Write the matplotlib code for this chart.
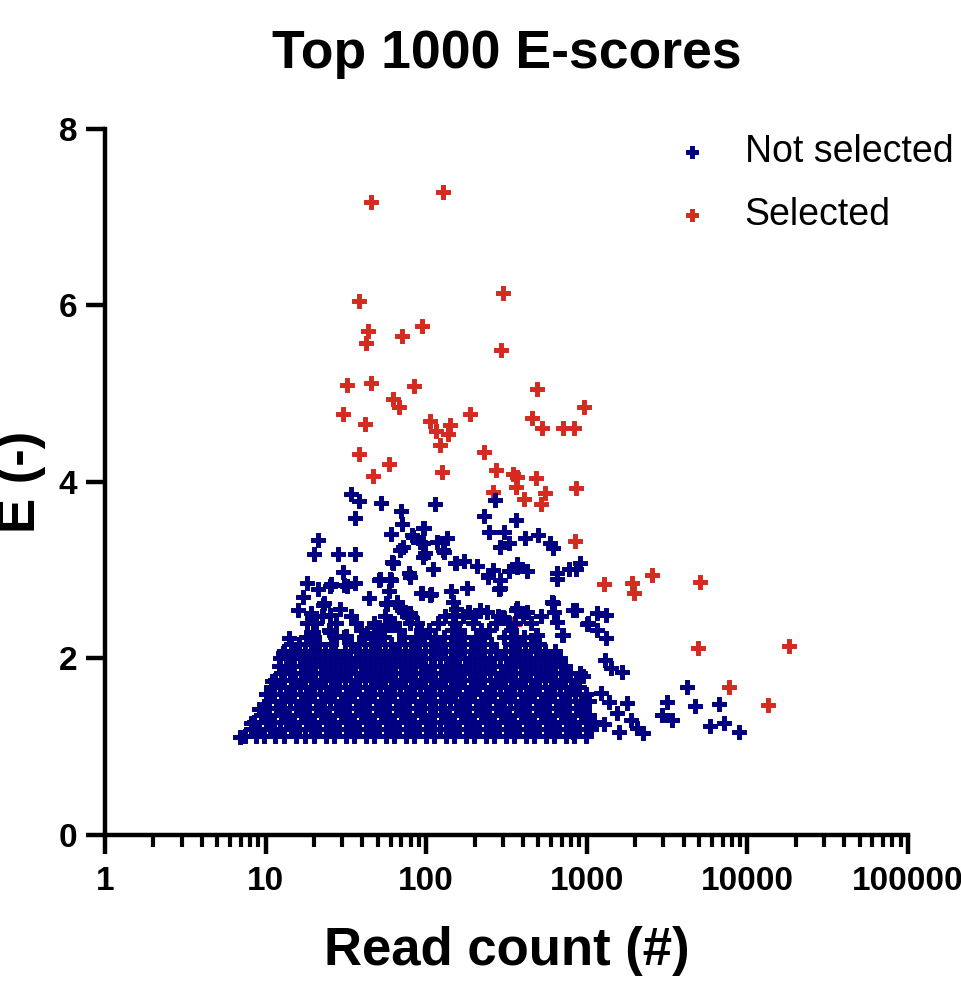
"""
Scatter of the top 1000 E-scores against read count, split into
selected / not selected hits.
"""

import matplotlib
matplotlib.use('Agg')
import matplotlib.pyplot as plt
from matplotlib.ticker import LogLocator, FuncFormatter, NullFormatter, FixedLocator

plt.rcParams['font.family'] = ['Liberation Sans', 'DejaVu Sans']

NAVY = '#000080'
RED = '#D52A1F'

# ── Selected hits ──
selected_reads = [45.3, 127, 38.2, 301, 43.4, 42.2, 70.7, 94.2, 292, 32.1, 45.3, 84,
                  490, 62, 67.7, 958, 30.3, 41.5, 105, 141, 187, 456, 528, 831, 710,
                  115, 137, 38.2, 58.7, 46.6, 122, 126, 229, 272, 348, 365, 362, 482,
                  405, 261, 550, 519, 857, 845, 1280, 1900, 1960, 352, 2547, 5070,
                  4920, 7680, 13400, 18100]
selected_e = [7.17, 7.29, 6.05, 6.14, 5.71, 5.58, 5.65, 5.77, 5.50, 5.10, 5.12, 5.09,
              5.05, 4.94, 4.85, 4.85, 4.77, 4.66, 4.69, 4.65, 4.77, 4.73, 4.61, 4.61, 4.61,
              4.58, 4.54, 4.32, 4.20, 4.07, 4.42, 4.11, 4.34, 4.14, 4.09, 4.06, 3.94, 4.05,
              3.81, 3.89, 3.87, 3.75, 3.93, 3.33, 2.84, 2.86, 2.74, 2.39, 2.95, 2.87,
              2.12, 1.68, 1.47, 2.14]

# ── Not selected: scattered hits above the main cloud and on its flanks ──
other_reads = [34.0, 38.2, 36.0, 52.4, 69.6, 70.7, 60.4, 81.7, 96.8, 91.5, 113, 134,
               129, 98.5, 68.7, 61.1, 21.2, 20.0, 28.2, 36.0, 30.4, 18.1, 21.2, 25.5,
               30.8, 36.0, 17.1, 23.1, 29.0, 44.1, 56.1, 50.8, 62.2, 60.4, 58.7, 78.3,
               92.9, 107, 110, 154, 172, 207, 243, 260, 288, 284, 327, 368, 424, 143,
               179, 147, 154, 228, 268, 245, 303, 363, 411, 497, 288, 327, 590, 617,
               654, 654, 775, 907, 608, 627, 850, 1001, 1150, 1320, 1160, 1320, 700,
               480, 363, 303, 216, 184, 170, 70.7, 80.5, 50.8, 59.5, 42.9, 15.9, 19.2,
               25.2, 18.1, 19.7, 25.2, 31.7, 49.4, 72.9, 65.6, 57.1, 25.2, 32.1, 51.5,
               95.1, 83.0, 95.1, 116, 127, 95.1, 71.8, 79.3, 93.6, 106, 862, 368, 243,
               288, 151, 618, 822, 654, 710, 488, 368, 424, 299, 358, 147, 181, 239,
               79.3, 79.3, 68.7, 59.5, 22.6, 59.5,
               1023, 1290, 1420, 1650, 950, 855, 1220, 1370, 1780, 930, 990, 1060,
               1280, 1540, 1590, 1880, 2060, 2250, 818, 3150, 2940, 3380, 4190, 4700,
               6640, 5850, 7160, 8900,
               6.9, 8.1, 9.1, 10.1, 10.9, 12.1, 12.8, 14.0]
other_e = [3.86, 3.78, 3.59, 3.76, 3.67, 3.52, 3.41, 3.40, 3.48, 3.32, 3.75, 3.37,
           3.21, 3.20, 3.23, 3.09, 3.34, 3.18, 3.18, 3.18, 2.98, 2.86, 2.79, 2.84,
           2.83, 2.86, 2.70, 2.63, 2.56, 2.69, 2.63, 2.89, 3.08, 2.89, 2.76, 2.97,
           2.74, 2.73, 3.01, 3.08, 3.10, 3.05, 2.95, 3.00, 2.89, 2.79, 2.99, 3.07, 2.99, 2.76,
           2.80, 2.64, 2.56, 3.61, 3.80, 3.43, 3.43, 3.57, 3.37, 3.40, 3.26, 3.31, 3.31, 3.25,
           2.97, 2.90, 3.01, 3.08, 2.64, 2.53, 2.55, 2.39, 2.52, 2.49, 2.32, 2.23, 2.27,
           2.27, 2.55, 2.46, 2.55, 2.53, 2.48, 2.55, 2.47, 2.36, 2.40, 2.29, 2.55, 2.52,
           2.49, 2.40, 2.30, 2.30, 2.25, 2.36, 2.53, 2.64, 2.62, 2.82, 2.82, 2.90,
           3.48, 3.38, 3.31, 3.32, 3.23, 3.15, 3.26, 2.92, 2.74, 2.72, 3.01, 3.04, 2.92,
           2.80, 3.08, 2.63, 2.55, 2.41, 2.27, 2.27, 2.57, 2.53, 2.47, 2.40, 2.49, 2.53, 2.53,
           2.52, 2.40, 2.58, 2.90, 2.61, 2.38,
           2.40, 1.98, 1.89, 1.85, 1.80, 1.68, 1.61, 1.51, 1.50, 1.50, 1.34, 1.27,
           1.26, 1.38, 1.17, 1.30, 1.21, 1.16, 1.17, 1.51, 1.36, 1.30, 1.68, 1.46,
           1.48, 1.24, 1.27, 1.17,
           1.11, 1.27, 1.43, 1.60, 1.74, 1.91, 2.06, 2.23]

# ── Not selected: the dense core, one list of read counts per E level ──
core_levels = [1.12, 1.20, 1.28, 1.36, 1.44, 1.52, 1.60, 1.68, 1.76, 1.84, 1.92,
               2.00, 2.08, 2.16, 2.24, 2.32, 2.40, 2.48]
core_reads = [
    [7.4, 8.7, 9.8, 11.5, 13.1, 15.4, 17.5, 20.1, 23.6, 26.8, 31.5, 35.7, 41.9, 47.6,
     55.8, 63.2, 74.4, 84.5, 99.0, 112, 133, 149, 176, 198, 235, 265, 314, 352, 418,
     470, 556, 627, 741, 836, 985],
    [8.1, 9.1, 10.7, 12.2, 14.4, 16.2, 19.1, 21.6, 25.5, 28.7, 33.9, 38.3, 45.2, 51.0,
     60.1, 68.0, 80.1, 90.6, 107, 121, 143, 160, 189, 213, 253, 285, 337, 380, 448,
     506, 597, 674, 795, 898, 1060],
    [8.5, 10.0, 11.3, 13.4, 15.0, 17.8, 20.0, 23.7, 26.6, 31.6, 35.5, 42.1, 47.4, 56.0,
     63.1, 74.6, 84.0, 99.5, 111, 133, 149, 176, 198, 235, 264, 314, 352, 417, 470,
     556, 626, 741, 834, 988, 1110],
    [9.3, 10.5, 12.4, 14.0, 16.6, 18.7, 22.1, 24.9, 29.4, 33.1, 39.2, 44.2, 52.1, 58.8,
     69.5, 78.4, 92.6, 105, 124, 139, 164, 185, 219, 247, 292, 329, 389, 438, 517,
     584, 689, 777, 918, 1035],
    [9.8, 11.6, 13.0, 15.4, 17.4, 20.6, 23.1, 27.3, 30.8, 36.5, 41.1, 48.6, 54.7, 64.6,
     72.9, 86.1, 97.2, 114, 129, 153, 172, 203, 229, 271, 306, 361, 407, 481, 543,
     641, 724, 854, 964],
    [10.5, 12.5, 14.1, 16.6, 18.7, 22.0, 25.0, 29.3, 33.2, 39.1, 44.3, 52.0, 59.0, 69.4,
     78.6, 92.4, 105, 123, 140, 164, 185, 218, 247, 291, 330, 388, 439, 516, 585, 688,
     779, 916, 1038],
    [10.1, 11.3, 13.4, 15.0, 17.8, 20.1, 23.7, 26.7, 31.6, 35.6, 42.0, 47.5, 55.9, 63.3,
     74.5, 84.3, 99.4, 112, 132, 150, 176, 199, 234, 265, 313, 354, 416, 471, 555, 628,
     740, 838, 986],
    [10.8, 12.2, 14.3, 16.3, 19.1, 21.7, 25.4, 28.8, 33.8, 38.4, 45.1, 51.2, 60.0, 68.3,
     80.0, 90.9, 107, 121, 142, 161, 189, 214, 252, 286, 336, 381, 447, 507, 595, 677,
     792, 900],
    [11.5, 13.1, 15.3, 17.5, 20.4, 23.3, 27.2, 31.0, 36.3, 41.4, 48.3, 55.0, 64.3, 73.3,
     85.6, 97.8, 114, 130, 152, 173, 202, 230, 270, 308, 359, 410, 479, 546, 638, 728,
     850],
    [12.4, 14.1, 16.5, 18.8, 22.0, 25.1, 29.2, 33.3, 39.0, 44.5, 51.9, 59.2, 69.2, 79.0,
     92.1, 105, 123, 140, 163, 186, 217, 248, 290, 331, 387, 440, 514, 587, 686, 782,
     912],
    [13.3, 15.1, 17.7, 20.2, 23.5, 26.9, 31.4, 35.8, 41.8, 47.8, 55.6, 63.6, 74.1, 84.7,
     98.8, 112, 132, 150, 175, 200, 233, 266, 312, 355, 414, 473, 552, 630, 736],
    [12.2, 14.3, 16.3, 19.0, 21.7, 25.3, 28.9, 33.7, 38.5, 44.9, 51.3, 59.8, 68.4, 79.7,
     91.1, 107, 121, 142, 161, 188, 215, 251, 287, 335, 382, 445, 509, 593, 678],
    [13.1, 15.3, 17.5, 20.4, 23.3, 27.2, 31.0, 36.3, 41.4, 48.3, 55.0, 64.3, 73.3, 85.6,
     97.8, 114, 130, 152, 173, 202, 230, 270, 308, 359, 410, 479, 546, 638],
    [14.3, 16.2, 19.1, 21.6, 25.4, 33.9, 38.3, 45.2, 51.0, 60.1, 68.0, 80.1, 90.6, 107,
     121, 143, 160, 189, 213, 253, 337, 380, 448, 506],
    [17.8, 20.1, 27.3, 30.8, 41.1, 48.6, 54.7, 72.9, 86.1, 97.2, 114, 129, 153, 172,
     203, 229, 306, 361, 407],
    [24.8, 39.4, 52.3, 67.6, 93.0, 104, 144, 159, 220, 246, 338],
    [20.6, 27.5, 36.4, 47.2, 63.0, 88.2, 118, 150, 196, 271, 322, 452],
    [22.3, 34.1, 55.2, 75.6, 131, 201, 279, 398, 521],
]

not_sel_reads = list(other_reads)
not_sel_e = list(other_e)
for level, reads in zip(core_levels, core_reads):
    not_sel_reads.extend(reads)
    not_sel_e.extend([level] * len(reads))

fig = plt.figure(figsize=(9.61, 9.83), dpi=100)
ax = fig.add_axes([0.1093, 0.1506, 0.8356, 0.7182])

# thick filled plus markers; a thin edge in the same colour fattens the arms
sel = ax.scatter(selected_reads, selected_e, marker='P', s=105, color=RED,
                 edgecolors=RED, linewidths=0.7, zorder=2)
nsel = ax.scatter(not_sel_reads, not_sel_e, marker='P', s=105, color=NAVY,
                  edgecolors=NAVY, linewidths=0.7, zorder=3)

ax.set_xscale('log')
ax.set_xlim(1, 1e5)
ax.set_ylim(0, 8)

ax.xaxis.set_major_locator(FixedLocator([1, 10, 100, 1000, 10000, 100000]))
ax.xaxis.set_minor_locator(LogLocator(base=10, subs=range(2, 10), numticks=20))
ax.xaxis.set_major_formatter(FuncFormatter(lambda v, _: f'{v:.0f}'))
ax.xaxis.set_minor_formatter(NullFormatter())
ax.set_yticks([0, 2, 4, 6, 8])

for side in ('top', 'right'):
    ax.spines[side].set_visible(False)
for side in ('left', 'bottom'):
    ax.spines[side].set_linewidth(3.2)

ax.tick_params(which='major', length=14, width=3.2, labelsize=24)
ax.tick_params(axis='x', which='major', pad=8.5)
ax.tick_params(axis='y', which='major', pad=6)
ax.tick_params(axis='x', which='minor', length=8.5, width=3.0)
for lbl in ax.get_xticklabels() + ax.get_yticklabels():
    lbl.set_fontweight('bold')

ax.set_title('Top 1000 E-scores', fontsize=38.5, fontweight='bold', pad=44)
ax.set_xlabel('Read count (#)', fontsize=38, fontweight='bold', labelpad=21)
ax.set_ylabel('E (-)', fontsize=38, fontweight='bold', labelpad=9)

ax.legend([nsel, sel], ['Not selected', 'Selected'], loc='upper left',
          bbox_to_anchor=(0.708, 0.993), frameon=False, fontsize=27,
          handlelength=1.0, handletextpad=0.9, borderpad=0, borderaxespad=0,
          labelspacing=0.72, markerscale=0.9)

fig.savefig('out.png', dpi=100)
